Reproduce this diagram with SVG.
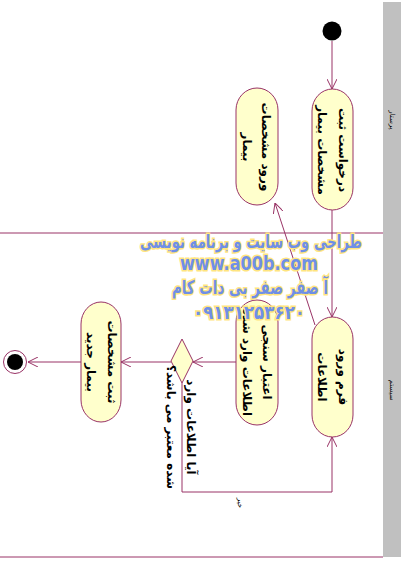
<svg xmlns="http://www.w3.org/2000/svg" width="403" height="567" viewBox="0 0 403 567">
<defs>
<style>
.node{fill:#ffffcc;stroke:#993366;stroke-width:1}
.conn{fill:none;stroke:#993366;stroke-width:1}
.lane{stroke:#993366;stroke-width:1}
.lbl{font-family:"DejaVu Sans",sans-serif;font-weight:bold;font-size:12px;fill:#000;text-anchor:middle;dominant-baseline:central}
.small{font-family:"DejaVu Sans",sans-serif;font-size:7px;fill:#000;text-anchor:middle;dominant-baseline:central}
.wm{font-family:"DejaVu Sans",sans-serif;font-weight:bold;fill:#6f8fe6;stroke:#ffe57f;stroke-width:3;paint-order:stroke;text-anchor:middle}
</style>
<marker id="arr" viewBox="0 0 10 10" refX="10" refY="5" markerWidth="10" markerHeight="10" orient="auto" markerUnits="userSpaceOnUse">
<path d="M0,0 L10,5 L0,10" fill="none" stroke="#993366" stroke-width="1"/>
</marker>
</defs>
<rect width="403" height="567" fill="#fff"/>
<g id="lanes">
<rect x="383" y="2" width="18" height="555" fill="#c0c0c0"/>
<line class="lane" x1="0" y1="233" x2="383" y2="233"/>
<line class="lane" x1="0" y1="557" x2="383" y2="557"/>
<text class="small" transform="rotate(90 392 120)" x="392" y="120">پرستار</text>
<text class="small" transform="rotate(90 392 390)" x="392" y="390">سیستم</text>
</g>
<g id="connectors">
<line class="conn" x1="332" y1="41" x2="332" y2="89" marker-end="url(#arr)"/>
<line class="conn" x1="332" y1="210" x2="332" y2="317" marker-end="url(#arr)"/>
<line class="conn" x1="315" y1="325" x2="275" y2="203" marker-end="url(#arr)"/>
<line class="conn" x1="236" y1="362" x2="193" y2="362" marker-end="url(#arr)"/>
<line class="conn" x1="171" y1="362" x2="121" y2="362" marker-end="url(#arr)"/>
<line class="conn" x1="81" y1="362" x2="28" y2="362" marker-end="url(#arr)"/>
<polyline class="conn" points="182,383 182,492 332,492 332,437" marker-end="url(#arr)"/>
<text class="small" transform="rotate(90 240 503)" x="240" y="503">خیر</text>
</g>
<g id="start">
<circle cx="332" cy="31" r="9.5" fill="#000"/>
</g>
<g id="n1">
<rect class="node" x="312" y="89" width="41" height="121" rx="20.5" ry="22"/>
<text class="lbl" transform="rotate(90 332.5 150)"><tspan x="332.5" y="139.5">درخواست ثبت</tspan><tspan x="332.5" y="160.5">مشخصات بیمار</tspan></text>
</g>
<g id="n2">
<rect class="node" x="236" y="88" width="42" height="117" rx="21" ry="22"/>
<text class="lbl" transform="rotate(90 257 147)"><tspan x="257" y="138">ورود مشخصات</tspan><tspan x="257" y="157">بیمار</tspan></text>
</g>
<g id="n3">
<rect class="node" x="312" y="317" width="41" height="120" rx="20.5" ry="22"/>
<text class="lbl" transform="rotate(90 332.5 377)"><tspan x="332.5" y="366.5">فرم ورود</tspan><tspan x="332.5" y="387.5">اطلاعات</tspan></text>
</g>
<g id="n4">
<rect class="node" x="236" y="300" width="42" height="125" rx="21" ry="22"/>
<text class="lbl" transform="rotate(90 257 362)"><tspan x="257" y="352">اعتبار سنجی</tspan><tspan x="257" y="372">اطلاعات وارد شده</tspan></text>
</g>
<g id="decision">
<polygon class="node" points="182,339 193,361 182,383 171,361"/>
<text class="lbl" transform="rotate(90 181 427)"><tspan x="181" y="417">آیا اطلاعات وارد</tspan><tspan x="181" y="437">شده معتبر می باشد؟</tspan></text>
</g>
<g id="n5">
<rect class="node" x="81" y="302" width="40" height="120" rx="20" ry="22"/>
<text class="lbl" transform="rotate(90 101 362)"><tspan x="101" y="351.5">ثبت مشخصات</tspan><tspan x="101" y="372.5">بیمار جدید</tspan></text>
</g>
<g id="end">
<circle cx="15" cy="362" r="11.5" fill="#fff" stroke="#993366" stroke-width="1"/>
<circle cx="15" cy="362" r="8" fill="#000"/>
</g>
<g id="watermark">
<text class="wm" x="251" y="248" font-size="19" textLength="222" lengthAdjust="spacingAndGlyphs">طراحی وب سایت و برنامه نویسی</text>
<text class="wm" x="249" y="270" font-size="20" textLength="138" lengthAdjust="spacingAndGlyphs">www.a00b.com</text>
<text class="wm" x="250" y="294" font-size="19" textLength="156" lengthAdjust="spacingAndGlyphs">آ صفر صفر بی دات کام</text>
<text class="wm" x="249" y="319" font-size="19" textLength="112" lengthAdjust="spacingAndGlyphs">۰۹۱۳۱۲۵۳۶۲۰</text>
</g>
</svg>
